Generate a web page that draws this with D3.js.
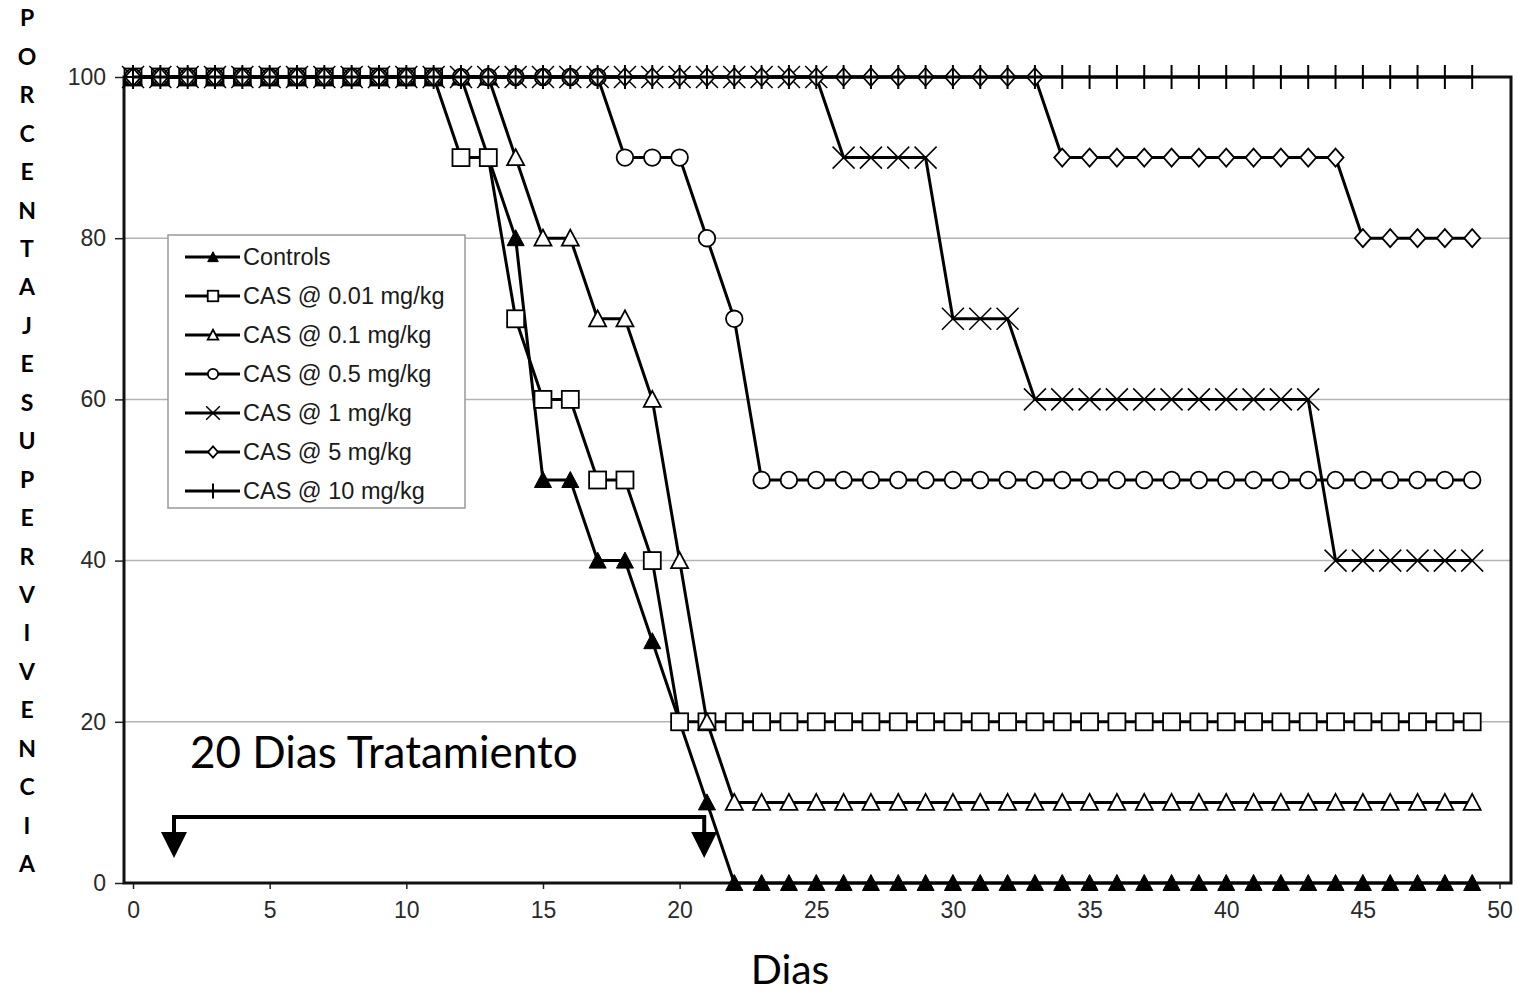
<!DOCTYPE html>
<html><head><meta charset="utf-8">
<script src="https://cdn.jsdelivr.net/npm/d3@7"></script>
<style>body{margin:0;background:#fff} svg{display:block}</style>
</head><body><svg id="c" width="1518" height="994"></svg>
<script>
// ---------- data ----------
const days = [0,1,2,3,4,5,6,7,8,9,10,11,12,13,14,15,16,17,18,19,20,21,22,23,24,25,26,27,28,29,30,31,32,33,34,35,36,37,38,39,40,41,42,43,44,45,46,47,48,49];
const controls = [100,100,100,100,100,100,100,100,100,100,100,100,100,90,80,50,50,40,40,30,20,10,0,0,0,0,0,0,0,0,0,0,0,0,0,0,0,0,0,0,0,0,0,0,0,0,0,0,0,0];
const cas001 = [100,100,100,100,100,100,100,100,100,100,100,100,90,90,70,60,60,50,50,40,20,20,20,20,20,20,20,20,20,20,20,20,20,20,20,20,20,20,20,20,20,20,20,20,20,20,20,20,20,20];
const cas01 = [100,100,100,100,100,100,100,100,100,100,100,100,100,100,90,80,80,70,70,60,40,20,10,10,10,10,10,10,10,10,10,10,10,10,10,10,10,10,10,10,10,10,10,10,10,10,10,10,10,10];
const cas05 = [100,100,100,100,100,100,100,100,100,100,100,100,100,100,100,100,100,100,90,90,90,80,70,50,50,50,50,50,50,50,50,50,50,50,50,50,50,50,50,50,50,50,50,50,50,50,50,50,50,50];
const cas1 = [100,100,100,100,100,100,100,100,100,100,100,100,100,100,100,100,100,100,100,100,100,100,100,100,100,100,90,90,90,90,70,70,70,60,60,60,60,60,60,60,60,60,60,60,40,40,40,40,40,40];
const cas5 = [100,100,100,100,100,100,100,100,100,100,100,100,100,100,100,100,100,100,100,100,100,100,100,100,100,100,100,100,100,100,100,100,100,100,90,90,90,90,90,90,90,90,90,90,90,80,80,80,80,80];
const cas10 = [100,100,100,100,100,100,100,100,100,100,100,100,100,100,100,100,100,100,100,100,100,100,100,100,100,100,100,100,100,100,100,100,100,100,100,100,100,100,100,100,100,100,100,100,100,100,100,100,100,100];
const seriesNames = ["Controls","CAS @ 0.01 mg/kg","CAS @ 0.1 mg/kg","CAS @ 0.5 mg/kg","CAS @ 1 mg/kg","CAS @ 5 mg/kg","CAS @ 10 mg/kg"];
const seriesMarkers = ["triFilled","square","tri","circle","x","diamond","plus"];
const seriesValues = [controls,cas001,cas01,cas05,cas1,cas5,cas10];
const yTicks = [0,20,40,60,80,100];
const gridTicks = [20,40,60,80];
const xTicks = [0,5,10,15,20,25,30,35,40,45,50];
const treatmentDays = [1.5,20.9];
const annotationText = "20 Dias Tratamiento";
const xTitle = "Dias";
const yTitle = "PORCENTAJE SUPERVIVENCIA";

// ---------- layout ----------
const svg = d3.select("#c");
const L=124,R=1511,T=77,B=883;
const x = d3.scaleLinear().domain([-0.33,50.42]).range([L,R]);
const y = d3.scaleLinear().domain([0,100]).range([B,T]);
const tickFont = "'Liberation Sans', Arial, sans-serif";

// gridlines
svg.append("g").selectAll("line").data(gridTicks).join("line")
  .attr("x1",L).attr("x2",R).attr("y1",d=>y(d)).attr("y2",d=>y(d))
  .attr("stroke","#b4b4b4").attr("stroke-width",1.5);

// axes
const yAxis = svg.append("g").attr("transform",`translate(${L},0)`)
  .call(d3.axisLeft(y).tickValues(yTicks).tickSize(9).tickPadding(9));
yAxis.select(".domain").remove();
yAxis.selectAll("line").attr("stroke","#222").attr("stroke-width",1.5);
yAxis.selectAll("text").attr("font-family",tickFont).attr("font-size",23).attr("fill","#2a2a2a");

const xAxis = svg.append("g").attr("transform",`translate(0,${B})`)
  .call(d3.axisBottom(x).tickValues(xTicks).tickSize(6).tickPadding(13));
xAxis.select(".domain").remove();
xAxis.selectAll("line").attr("stroke","#222").attr("stroke-width",1.5);
xAxis.selectAll("text").attr("font-family",tickFont).attr("font-size",23).attr("fill","#2a2a2a");

// plot border
svg.append("rect").attr("x",L).attr("y",T).attr("width",R-L).attr("height",B-T)
  .attr("fill","none").attr("stroke","#111").attr("stroke-width",3);

// ---------- markers ----------
function drawMarker(g, type, s){
  s = s || 1;
  const sw = 1.8;
  switch(type){
    case "triFilled":
      g.append("path").attr("d",`M0,${-8.5*s}L${8.5*s},${7.5*s}L${-8.5*s},${7.5*s}Z`).attr("fill","#000").attr("stroke","#000").attr("stroke-width",1);
      break;
    case "square":
      g.append("rect").attr("x",-8.5*s).attr("y",-8.5*s).attr("width",17*s).attr("height",17*s).attr("fill","#fff").attr("stroke","#000").attr("stroke-width",sw);
      break;
    case "tri":
      g.append("path").attr("d",`M0,${-8.5*s}L${8.5*s},${7.5*s}L${-8.5*s},${7.5*s}Z`).attr("fill","#fff").attr("stroke","#000").attr("stroke-width",sw);
      break;
    case "circle":
      g.append("circle").attr("r",8.3*s).attr("fill","#fff").attr("stroke","#000").attr("stroke-width",sw);
      break;
    case "x":
      g.append("path").attr("d",`M${-11*s},${-11*s}L${11*s},${11*s}M${11*s},${-11*s}L${-11*s},${11*s}`).attr("stroke","#000").attr("stroke-width",1.5).attr("fill","none");
      break;
    case "diamond":
      g.append("path").attr("d",`M0,${-9*s}L${8*s},0L0,${9*s}L${-8*s},0Z`).attr("fill","#fff").attr("stroke","#000").attr("stroke-width",sw);
      break;
    case "plus":
      g.append("path").attr("d",`M0,${-12*s}L0,${12*s}M${-8*s},0L${8*s},0`).attr("stroke","#000").attr("stroke-width",2).attr("fill","none");
      break;
  }
}

// ---------- series ----------
const line = d3.line().x((d,i)=>x(days[i])).y(d=>y(d));
seriesValues.forEach((vals,si)=>{
  const g = svg.append("g");
  g.append("path").attr("d",line(vals)).attr("fill","none").attr("stroke","#000").attr("stroke-width",3).attr("stroke-linejoin","round");
  vals.forEach((v,i)=>{
    const m = g.append("g").attr("transform",`translate(${x(days[i])},${y(v)})`);
    drawMarker(m, seriesMarkers[si]);
  });
});

// ---------- legend ----------
const lg = svg.append("g");
lg.append("rect").attr("x",168).attr("y",235).attr("width",297).attr("height",273)
  .attr("fill","#fff").attr("stroke","#999").attr("stroke-width",1.5);
seriesNames.forEach((name,i)=>{
  const cy = 257 + i*39;
  lg.append("line").attr("x1",185).attr("x2",240).attr("y1",cy).attr("y2",cy).attr("stroke","#000").attr("stroke-width",3);
  const m = lg.append("g").attr("transform",`translate(213,${cy})`);
  drawMarker(m, seriesMarkers[i], 0.62);
  lg.append("text").attr("x",243).attr("y",cy).attr("dy","0.35em")
    .attr("font-family",tickFont).attr("font-size",23.5).attr("fill","#1a1a1a").text(name);
});

// ---------- annotation ----------
const ay = 817, ab = 832;
const ax1 = x(treatmentDays[0]), ax2 = x(treatmentDays[1]);
svg.append("path").attr("d",`M${ax1},${ab}L${ax1},${ay}L${ax2},${ay}L${ax2},${ab}`)
  .attr("fill","none").attr("stroke","#000").attr("stroke-width",4);
[ax1,ax2].forEach(ax=>{
  svg.append("path").attr("d",`M${ax-13},${ab}L${ax+13},${ab}L${ax},${ab+26}Z`).attr("fill","#000");
});
svg.append("text").attr("x",190).attr("y",768).attr("font-family","Lato, 'Open Sans', sans-serif")
  .attr("font-size",44).attr("fill","#000").text(annotationText);

// ---------- titles ----------
svg.append("text").attr("x",790).attr("y",984).attr("text-anchor","middle")
  .attr("font-family","Lato, 'Open Sans', sans-serif").attr("font-size",41).attr("fill","#000").text(xTitle);
const letters = yTitle.replace(/\s/g,"").split("");
svg.append("g").selectAll("text").data(letters).join("text")
  .attr("x",27).attr("y",(d,i)=>18 + i*38.45).attr("dy","0.36em").attr("text-anchor","middle")
  .attr("font-family","Lato, 'Open Sans', sans-serif").attr("font-weight","bold").attr("font-size",23).attr("fill","#000")
  .text(d=>d);
</script></body></html>
